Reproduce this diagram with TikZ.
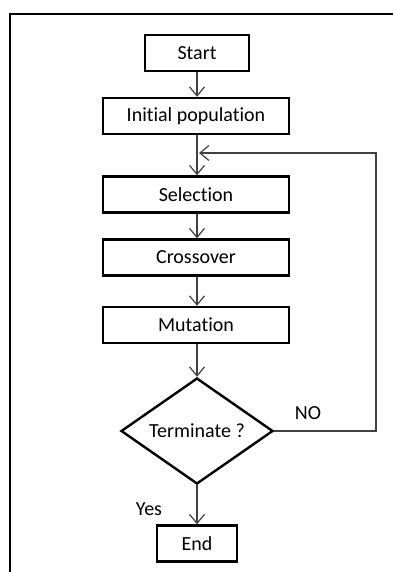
\documentclass[tikz,border=0pt]{standalone}
\usepackage{fontspec}
\setmainfont[Ligatures={NoCommon,NoRare,NoContextual}]{Carlito}
\usetikzlibrary{shapes.geometric,arrows.meta}
\begin{document}
\begin{tikzpicture}[x=1pt,y=-1pt,
  box/.style={draw=black,line width=2.4pt,minimum height=36pt,inner sep=0pt,font=\fontsize{20}{24}\selectfont},
  decide/.style={draw=black,line width=2.4pt,diamond,minimum width=152pt,minimum height=106pt,aspect=1.43,inner sep=0pt,font=\fontsize{20}{24}\selectfont},
  conn/.style={draw=black!75,line width=1.2pt,-{Straight Barb[length=9pt,width=15pt,line width=1.2pt]}},
  lab/.style={font=\fontsize{20}{24}\selectfont,inner sep=0pt}]
\useasboundingbox (0,0) rectangle (393,572);
\draw[line width=2pt] (10,572) -- (10,14) -- (393,14);
\node[box,minimum width=104pt] (start) at (197,53) {Start};
\node[box,minimum width=186pt] (init) at (196,116) {Initial population};
\node[box,minimum width=186pt] (sel) at (196,194.5) {Selection};
\node[box,minimum width=186pt] (cross) at (196,257.5) {Crossover};
\node[box,minimum width=186pt] (mut) at (196,325) {Mutation};
\node[decide] (term) at (197,431) {Terminate ?};
\node[box,minimum width=80pt] (end) at (197,543.5) {End};
\coordinate (fb) at (376,153);
\coordinate (fbin) at (199,153);
\draw[conn] (start.south -| 197,0) -- (init.north -| 197,0);
\draw[conn] (init.south -| 197,0) -- (sel.north -| 197,0);
\draw[conn] (sel.south -| 197,0) -- (cross.north -| 197,0);
\draw[conn] (cross.south -| 197,0) -- (mut.north -| 197,0);
\draw[conn] (mut.south -| 197,0) -- (term.north);
\draw[conn] (term.south) -- (end.north);
\draw[conn] (term.east) -- (term.east -| fb) -- (fb) -- (fbin);
\node[lab] (no) at (308,413.5) {NO};
\node[lab] (yes) at (149,509) {Yes};
\end{tikzpicture}
\end{document}
